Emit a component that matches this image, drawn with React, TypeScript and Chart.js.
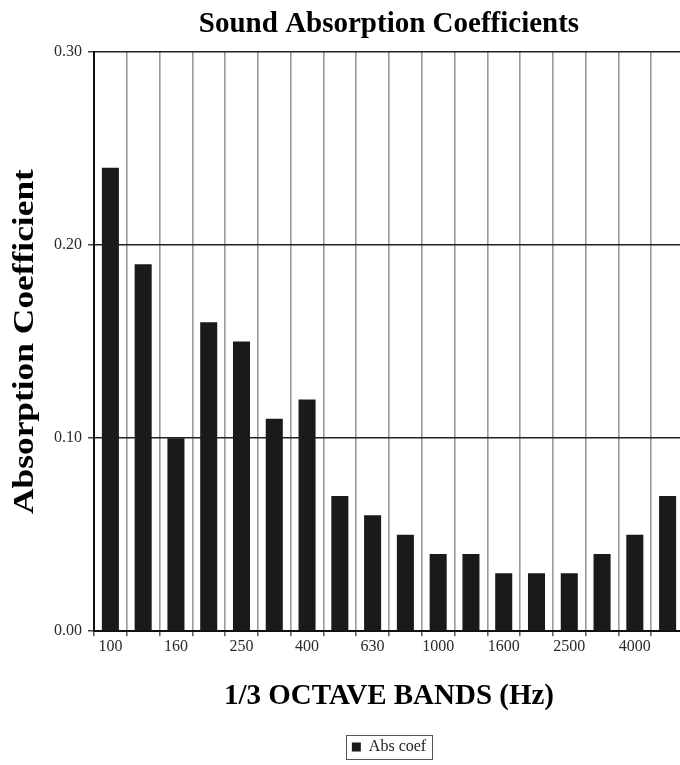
import React, { useEffect, useRef } from "react";
import { Chart, registerables } from "chart.js";

Chart.register(...registerables);

const categories = ["100", "125", "160", "200", "250", "315", "400", "500", "630", "800", "1000", "1250", "1600", "2000", "2500", "3150", "4000", "5000"];
const absCoef = [0.24, 0.19, 0.10, 0.16, 0.15, 0.11, 0.12, 0.07, 0.06, 0.05, 0.04, 0.04, 0.03, 0.03, 0.03, 0.04, 0.05, 0.07];
const yTickValues = [0, 0.1, 0.2, 0.3];
const seriesName = "Abs coef";
const chartTitle = "Sound Absorption Coefficients";
const xTitle = "1/3 OCTAVE BANDS (Hz)";
const yTitle = "Absorption Coefficient";

const FONT = "'Liberation Serif', 'Times New Roman', serif";

const legendBorder = {
  id: "legendBorder",
  afterDraw(chart: any) {
    const boxes = chart.legend && chart.legend.legendHitBoxes;
    if (!boxes || !boxes.length) return;
    const b = boxes[0];
    const ctx = chart.ctx;
    ctx.save();
    ctx.strokeStyle = "#555";
    ctx.lineWidth = 1;
    ctx.strokeRect(Math.round(b.left - 6) + 0.5, Math.round(b.top - 4) + 0.5, Math.round(b.width + 12), Math.round(b.height + 8));
    ctx.restore();
  },
};

// Draws the y-axis title, stretched along its length like the scanned original.
const yTitlePlugin = {
  id: "yTitleStretched",
  afterDraw(chart: any) {
    const ctx = chart.ctx;
    const area = chart.chartArea;
    ctx.save();
    ctx.translate(26, (area.top + area.bottom) / 2);
    ctx.rotate(-Math.PI / 2);
    ctx.scale(1.22, 1);
    ctx.font = `bold 29px ${FONT}`;
    ctx.fillStyle = "#000";
    ctx.textAlign = "center";
    ctx.textBaseline = "middle";
    ctx.fillText(yTitle, 0, 0);
    ctx.restore();
  },
};

export default function App() {
  const ref = useRef<HTMLCanvasElement | null>(null);
  useEffect(() => {
    if (!ref.current) return;
    const chart = new Chart(ref.current, {
      type: "bar",
      data: {
        labels: categories,
        datasets: [
          {
            label: seriesName,
            data: absCoef,
            backgroundColor: "#1a1a1a",
            borderWidth: 0,
            barPercentage: 0.52,
            categoryPercentage: 1,
          },
        ],
      },
      options: {
        responsive: false,
        animation: false,
        layout: { padding: { left: 6, right: 6, top: 0, bottom: 0 } },
        plugins: {
          title: {
            display: true,
            text: chartTitle,
            fullSize: false,
            color: "#000",
            font: { family: FONT, size: 29, weight: "bold" },
            padding: { top: 7.6, bottom: 9.6 },
          },
          legend: {
            display: true,
            position: "bottom",
            fullSize: false,
            labels: {
              boxWidth: 9,
              boxHeight: 9,
              padding: 8,
              color: "#222",
              font: { family: FONT, size: 16 },
            },
          },
          tooltip: { enabled: false },
        },
        scales: {
          x: {
            grid: {
              display: true,
              offset: true,
              color: "#999",
              lineWidth: 1.6,
              drawTicks: true,
              tickLength: 5,
              tickColor: "#666",
            },
            border: { display: true, color: "#111", width: 2 },
            ticks: {
              color: "#2a2a2a",
              font: { family: FONT, size: 16 },
              padding: 1,
              maxRotation: 0,
              autoSkip: false,
              callback: (_v: any, i: number) => (i % 2 === 0 ? categories[i] : ""),
            },
            title: {
              display: true,
              text: xTitle,
              color: "#000",
              font: { family: FONT, size: 29, weight: "bold" },
              padding: { top: 2, bottom: 17.4 },
            },
            afterFit: (scale: any) => {
              scale.height = 99.8;
            },
          },
          y: {
            min: 0,
            max: 0.3,
            grid: {
              color: "#222",
              lineWidth: 1.5,
              tickLength: 6,
              tickColor: "#444",
            },
            border: { display: true, color: "#111", width: 2 },
            afterBuildTicks: (scale: any) => {
              scale.ticks = yTickValues.map((v) => ({ value: v }));
            },
            ticks: {
              color: "#2a2a2a",
              font: { family: FONT, size: 16 },
              padding: 6,
              callback: (v: any) => Number(v).toFixed(2),
            },
            title: { display: false, text: yTitle },
            afterFit: (scale: any) => {
              scale.width = 88;
            },
          },
        },
      },
      plugins: [legendBorder, yTitlePlugin],
    } as any);
    return () => chart.destroy();
  }, []);

  return (
    <div style={{ position: "absolute", left: 0, top: 0, width: 680, height: 765, overflow: "hidden", background: "#fff" }}>
      <canvas ref={ref} width={690} height={765} style={{ width: 690, height: 765, display: "block" }} />
    </div>
  );
}
